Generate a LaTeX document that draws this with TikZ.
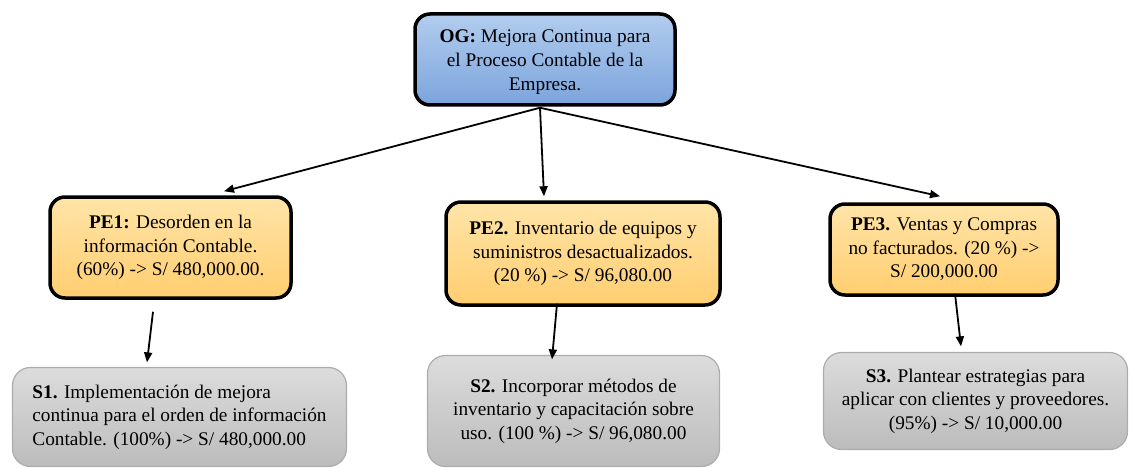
\documentclass[tikz,border=0pt]{standalone}
\usepackage{fontspec}
\setmainfont{Liberation Serif}
\usetikzlibrary{arrows.meta,shadings}
\definecolor{ogtop}{RGB}{178,205,238}
\definecolor{ogbot}{RGB}{124,164,220}
\definecolor{petop}{RGB}{255,228,168}
\definecolor{pebot}{RGB}{255,206,112}
\definecolor{sltop}{RGB}{220,220,220}
\definecolor{slbot}{RGB}{188,188,188}
\definecolor{slline}{RGB}{172,172,172}
\tikzset{
  txt/.style={font=\fontsize{19.3}{23.5}\selectfont, align=center, inner sep=0pt},
  ogbox/.style={draw=black, line width=3.5pt, rounded corners=15pt, top color=ogtop, bottom color=ogbot},
  pebox/.style={txt, draw=black, line width=3.5pt, rounded corners=15pt, top color=petop, bottom color=pebot},
  solbox/.style={txt, draw=slline, line width=1.2pt, rounded corners=18pt, top color=sltop, bottom color=slbot},
}
\begin{document}
\begin{tikzpicture}[x=1pt,y=-1pt]
      \useasboundingbox (0,0) rectangle (1130,468);
      \draw
        (545,59.5) node[ogbox, minimum width=260pt, minimum height=91pt] (og){}
        (170.5,247.5) node[pebox, minimum width=241pt, minimum height=101pt] (pe1){\textbf{PE1:} Desorden en la\\información Contable.\\(60\%) -> S/ 480,000.00.}
        (583,253.5) node[pebox, minimum width=274pt, minimum height=103pt] (pe2){\textbf{PE2.} Inventario de equipos y\\suministros desactualizados.\\(20 \%) -> S/ 96,080.00}
        (944,249.5) node[pebox, minimum width=228pt, minimum height=91pt] (pe3){\textbf{PE3.} Ventas y Compras\\no facturados. (20 \%) ->\\S/ 200,000.00}
        (179.5,417) node[solbox, align=left, minimum width=334pt, minimum height=99pt] (s1){\textbf{S1.} Implementación de mejora\\continua para el orden de información\\Contable. (100\%) -> S/ 480,000.00}
        (573.5,411) node[solbox, minimum width=292pt, minimum height=111pt] (s2){\textbf{S2.} Incorporar métodos de\\inventario y capacitación sobre\\uso. (100 \%) -> S/ 96,080.00}
        (975.5,401) node[solbox, minimum width=304pt, minimum height=97pt] (s3){\textbf{S3.} Plantear estrategias para\\aplicar con clientes y proveedores.\\(95\%) -> S/ 10,000.00};
      \begin{scope}
        \clip (og.north west) rectangle ([yshift=13.5pt]og.south east);
        \node[txt, font=\fontsize{19.3}{24}\selectfont] (ogtext) at ([yshift=-3pt]og.center) {\textbf{OG:} Mejora Continua para\\el Proceso Contable de la\\Empresa.};
      \end{scope}
      \begin{scope}[-{Triangle[length=10pt,width=8pt]}, line width=1.8pt]
        \draw ([xshift=-5pt,yshift=-1pt]og.south) to ([xshift=53.5pt,yshift=4pt]pe1.north);
        \draw ([xshift=-5pt,yshift=-1pt]og.south) to ([xshift=-39pt,yshift=4pt]pe2.north);
        \draw ([xshift=-5pt,yshift=-1pt]og.south) to ([xshift=-4pt,yshift=6pt]pe3.north);
        \draw ([xshift=-17.5pt,yshift=-12pt]pe1.south) to ([xshift=-32.5pt,yshift=4.5pt]s1.north);
        \draw ([xshift=-26pt,yshift=3pt]pe2.south) to ([xshift=-21.5pt,yshift=-4.5pt]s2.north);
        \draw ([xshift=11pt,yshift=3pt]pe3.south) to ([xshift=-14.5pt,yshift=5.5pt]s3.north);
      \end{scope}
    \end{tikzpicture}
\end{document}
